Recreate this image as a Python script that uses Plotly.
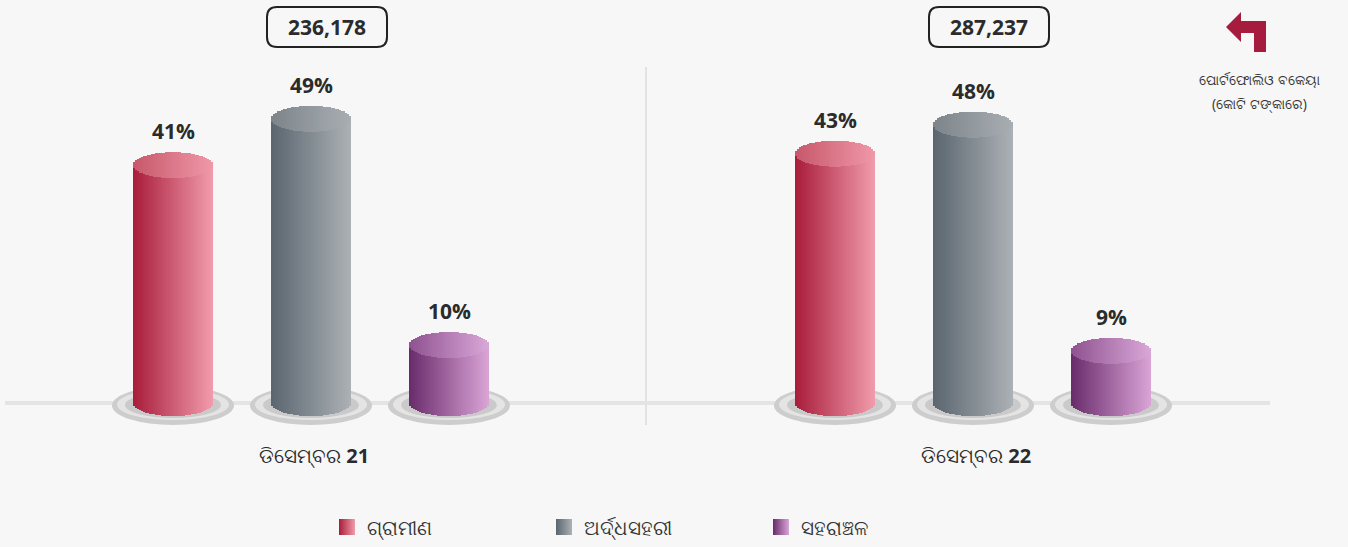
import math
import plotly.graph_objects as go

# ---------------- data ----------------
period_prefix = "ଡିସେମ୍ବର"
period_years = ["21", "22"]
totals = ["236,178", "287,237"]
series_names = ["ଗ୍ରାମୀଣ", "ଅର୍ଦ୍ଧସହରୀ", "ସହରାଞ୍ଚଳ"]
rural = [41, 43]
semi_urban = [49, 48]
urban = [10, 9]
unit_title = ["ପୋର୍ଟଫୋଲିଓ ବକେୟା", "(କୋଟି ଟଙ୍କାରେ)"]

# ---------------- layout / style ----------------
W, H = 1348, 547
PX_PER_UNIT = 5.8          # vertical pixels per percentage point
BASE_PX = 403              # pixel row of the 0 % baseline
GROUP_START = [173, 835]   # x of first cylinder in each group
SPACING = 138
BAR_W = 80
N_STRIPS = 40
CAP_H = 13                 # half height of elliptical ends (px)
FONT = "Open Sans, Noto Sans, sans-serif"
TXT = "#2b2b2b"

styles = [
    dict(left=(0xA8, 0x1C, 0x3A), right=(0xF1, 0x9C, 0xAC),
         tleft=(0xC6, 0x58, 0x6A), tright=(0xF0, 0x98, 0xA8)),
    dict(left=(0x5A, 0x65, 0x6F), right=(0xAC, 0xB1, 0xB5),
         tleft=(0x7C, 0x84, 0x8B), tright=(0xA9, 0xAE, 0xB2)),
    dict(left=(0x69, 0x2B, 0x6B), right=(0xDA, 0xA5, 0xD7),
         tleft=(0x8E, 0x52, 0x90), tright=(0xDA, 0xA8, 0xD8)),
]
series_values = [rural, semi_urban, urban]

ymax = BASE_PX / PX_PER_UNIT
ymin = ymax - H / PX_PER_UNIT
cap_u = CAP_H / PX_PER_UNIT


def py(px):  # pixel row -> paper y
    return 1 - px / H


def px_x(px):  # pixel column -> paper x
    return px / W


def mix(a, b, t):
    return "rgb(%d,%d,%d)" % tuple(round(a[i] + (b[i] - a[i]) * t) for i in range(3))


fig = go.Figure()
shapes = []
annotations = []

# divider and baseline
shapes.append(dict(type="line", xref="paper", yref="paper", x0=px_x(646), x1=px_x(646),
                   y0=py(67), y1=py(425), line=dict(color="#e2e2e2", width=2), layer="below"))
shapes.append(dict(type="line", xref="paper", yref="y", x0=px_x(5), x1=px_x(1270),
                   y0=0, y1=0, line=dict(color="#e4e4e4", width=4), layer="below"))

sw = BAR_W / N_STRIPS
for s, (name, vals, st) in enumerate(zip(series_names, series_values, styles)):
    xs = [GROUP_START[g] + s * SPACING for g in range(len(vals))]
    # body: gradient strips with elliptical bottom
    for k in range(N_STRIPS):
        t = (k + 0.5) / N_STRIPS
        off = -BAR_W / 2 + (k + 0.5) * sw
        e = math.sqrt(max(0.0, 1 - (off / (BAR_W / 2)) ** 2)) * cap_u
        fig.add_trace(go.Bar(x=[x + off for x in xs], y=[v + e for v in vals], base=-e,
                             width=sw + 0.6,
                             marker=dict(color=mix(st["left"], st["right"], t), line=dict(width=0)),
                             showlegend=False, hoverinfo="skip", legendgroup=name))
    # top cap: gradient strips forming an ellipse
    for k in range(N_STRIPS):
        t = (k + 0.5) / N_STRIPS
        off = -BAR_W / 2 + (k + 0.5) * sw
        e = math.sqrt(max(0.0, 1 - (off / (BAR_W / 2)) ** 2)) * cap_u
        fig.add_trace(go.Bar(x=[x + off for x in xs], y=[2 * e for _ in vals],
                             base=[v - e for v in vals], width=sw + 0.6,
                             marker=dict(color=mix(st["tleft"], st["tright"], t), line=dict(width=0)),
                             showlegend=False, hoverinfo="skip", legendgroup=name))
    # legend entry
    fig.add_trace(go.Scatter(x=[None], y=[None], mode="markers", name=name, legendgroup=name,
                             marker=dict(symbol="square", size=17, color=mix(st["left"], st["left"], 0),
                                         gradient=dict(type="horizontal",
                                                       color=mix(st["right"], st["right"], 0)),
                                         line=dict(width=0))))
    for x, v in zip(xs, vals):
        # plate
        shapes.append(dict(type="circle", xref="x", yref="y", xsizemode="pixel", ysizemode="pixel",
                           xanchor=x, yanchor=0, x0=-61, x1=61, y0=-22, y1=17,
                           fillcolor="#cdcdcd", line=dict(width=0), layer="below"))
        shapes.append(dict(type="circle", xref="x", yref="y", xsizemode="pixel", ysizemode="pixel",
                           xanchor=x, yanchor=0, x0=-56, x1=56, y0=-17, y1=14,
                           fillcolor="#e4e4e4", line=dict(width=0), layer="below"))
        shapes.append(dict(type="circle", xref="x", yref="y", xsizemode="pixel", ysizemode="pixel",
                           xanchor=x, yanchor=0, x0=-48, x1=48, y0=-15, y1=11,
                           fillcolor="#b9b9b9", opacity=0.6, line=dict(width=0), layer="below"))
        annotations.append(dict(x=x, y=v, xref="x", yref="y", text="%d%%" % v, showarrow=False,
                                xanchor="center", yanchor="middle", yshift=34,
                                font=dict(family=FONT, size=21, color=TXT, weight="bold")))

# group labels and totals
for g, (yr, tot) in enumerate(zip(period_years, totals)):
    cx = GROUP_START[g] + SPACING
    annotations.append(dict(x=cx + 3, y=0, xref="x", yref="y", yshift=-52, showarrow=False,
                            xanchor="center", yanchor="middle",
                            text="%s <b>%s</b>" % (period_prefix, yr),
                            font=dict(family=FONT, size=20, color=TXT)))
    bx = cx + 16
    x0, x1 = px_x(bx - 60), px_x(bx + 60)
    y0, y1 = py(47), py(7)
    rx, ry = 10 / W, 10 / H
    path = (f"M {x0+rx},{y1} L {x1-rx},{y1} Q {x1},{y1} {x1},{y1-ry} L {x1},{y0+ry} "
            f"Q {x1},{y0} {x1-rx},{y0} L {x0+rx},{y0} Q {x0},{y0} {x0},{y0+ry} "
            f"L {x0},{y1-ry} Q {x0},{y1} {x0+rx},{y1} Z")
    shapes.append(dict(type="path", xref="paper", yref="paper", path=path,
                       line=dict(color="#222222", width=2), fillcolor="rgba(0,0,0,0)"))
    annotations.append(dict(x=px_x(bx), y=py(27), xref="paper", yref="paper", showarrow=False,
                            xanchor="center", yanchor="middle",
                            text=tot, font=dict(family=FONT, size=21, color=TXT, weight="bold")))

# arrow icon
pts = [(1226, 27), (1241, 12), (1241, 21), (1266, 21), (1266, 52), (1254, 52),
       (1254, 33), (1241, 33), (1241, 42)]
path = "M " + " L ".join(f"{px_x(a)},{py(b)}" for a, b in pts) + " Z"
shapes.append(dict(type="path", xref="paper", yref="paper", path=path,
                   fillcolor="#a51c3f", line=dict(width=0)))
for i, line in enumerate(unit_title):
    annotations.append(dict(x=px_x(1259), y=py(79 + 25 * i), xref="paper", yref="paper",
                            showarrow=False, xanchor="center", yanchor="middle",
                            text=line, font=dict(family=FONT, size=14, color="#333333")))

fig.update_layout(
    width=W, height=H, margin=dict(l=0, r=0, t=0, b=0),
    paper_bgcolor="#f7f7f7", plot_bgcolor="#f7f7f7",
    barmode="overlay", bargap=0,
    xaxis=dict(range=[0, W], visible=False, fixedrange=True),
    yaxis=dict(range=[ymin, ymax], visible=False, fixedrange=True),
    shapes=shapes, annotations=annotations,
    showlegend=True,
    legend=dict(orientation="h", x=px_x(327), xanchor="left", y=py(527), yanchor="middle",
                font=dict(family=FONT, size=20, color="#333333"), entrywidth=172,
                itemsizing="trace",
                bgcolor="rgba(0,0,0,0)", itemclick=False, itemdoubleclick=False),
    font=dict(family=FONT),
)

fig.write_html("out.html", config={"displayModeBar": False},
               post_script="document.body.style.margin='0';"
                           "document.body.style.background='#f7f7f7';")
